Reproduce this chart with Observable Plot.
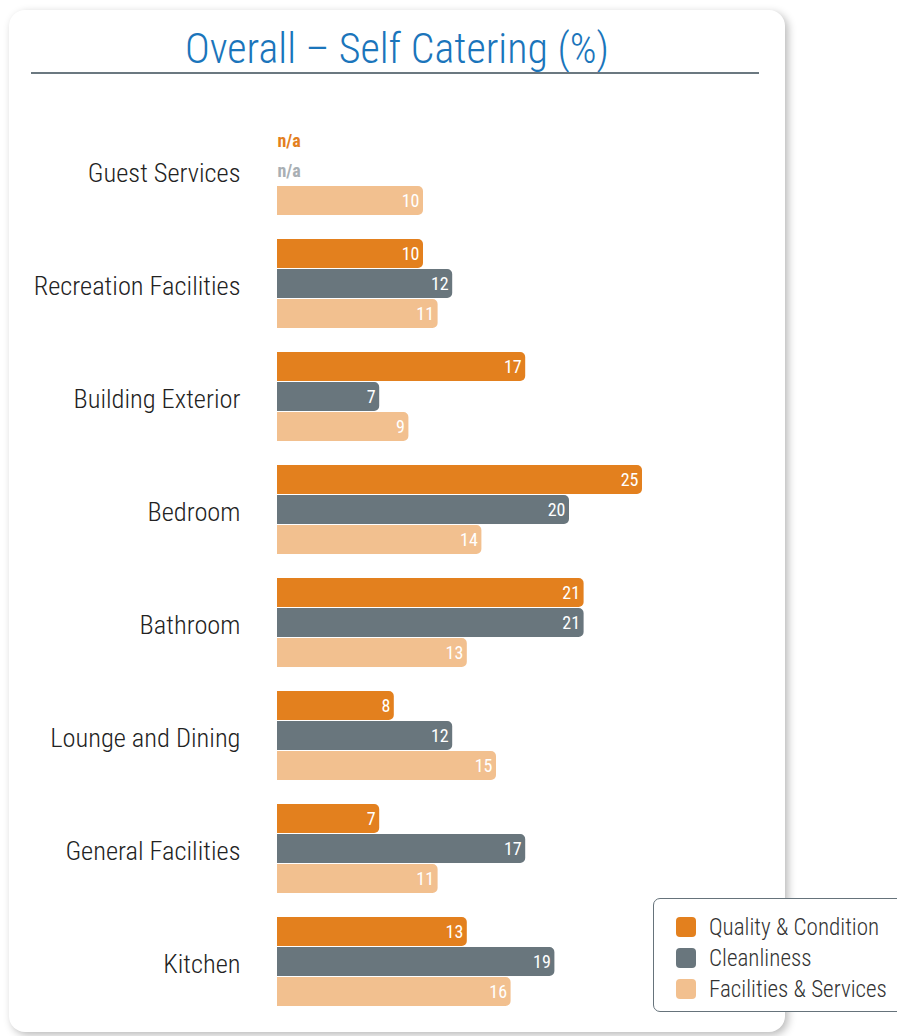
<!DOCTYPE html>
<html>
<head>
<meta charset="utf-8">
<script src="https://cdn.jsdelivr.net/npm/d3@7"></script>
<script src="https://cdn.jsdelivr.net/npm/@observablehq/plot@0.6"></script>
<style>
  html, body { margin: 0; padding: 0; background: #fff; }
  body { width: 897px; height: 1036px; position: relative; overflow: hidden; }
  #card { position: absolute; left: 9px; top: 10px; width: 776px; height: 1022px;
          background: #fff; border-radius: 16px;
          box-shadow: 3px 3px 9px rgba(0,0,0,0.28); }
  #title { position: absolute; left: 9px; width: 776px; top: 26px; text-align: center;
           color: #1b75bb; font-weight: 300; white-space: nowrap; }
  #rule { position: absolute; left: 31px; width: 728px; top: 72px; height: 0;
          border-top: 2px solid #6b7880; }
  #chart { position: absolute; left: 0; top: 0; }
  #legend { position: absolute; left: 653px; top: 898px; width: 260px; height: 114px;
            border: 1.5px solid #66737b; border-radius: 7px; background: #fff;
            box-sizing: border-box; }
  .li { position: absolute; left: 22px; height: 24px; display: flex; align-items: center;
        color: #333; white-space: nowrap; font-weight: 300; }
  .sw { width: 20px; height: 20px; border-radius: 4px; margin-right: 13px; flex: none; }
</style>
</head>
<body>
<div id="card"></div>
<div id="title">Overall – Self Catering (%)</div>
<div id="rule"></div>
<div id="chart"></div>
<div id="legend"></div>
<script>
const categories = ["Guest Services", "Recreation Facilities", "Building Exterior", "Bedroom",
                    "Bathroom", "Lounge and Dining", "General Facilities", "Kitchen"];
const seriesNames = ["Quality & Condition", "Cleanliness", "Facilities & Services"];
const seriesColors = ["#e3801e", "#69767d", "#f2c08f"];
const naColors = ["#e3801e", "#a9afb4"];
const quality     = [null, 10, 17, 25, 21, 8, 7, 13];
const cleanliness = [null, 12, 7, 20, 21, 12, 17, 19];
const facilities  = [10, 11, 9, 14, 13, 15, 11, 16];

// pick an installed condensed face
const ctx = document.createElement("canvas").getContext("2d");
function installed(name) {
  const probe = "Recreation Facilities Wmi 0123";
  for (const base of ["monospace", "serif"]) {
    ctx.font = `40px ${base}`;
    const w0 = ctx.measureText(probe).width;
    ctx.font = `40px "${name}", ${base}`;
    if (ctx.measureText(probe).width !== w0) return true;
  }
  return false;
}
const family = ["Roboto Condensed", "Liberation Sans Narrow", "DejaVu Sans Condensed", "Roboto"]
  .find(installed) || "sans-serif";
const fontFam = `"${family}", sans-serif`;
function fit(text, targetW, maxSize, weight) {
  ctx.font = `${weight} 100px ${fontFam}`;
  const w = ctx.measureText(text).width;
  return Math.min(maxSize, 100 * targetW / w);
}
const catSize = fit("Recreation Facilities", 207, 28, 300);
const titleSize = fit("Overall – Self Catering (%)", 424, 44, 300);
const legSize = fit("Facilities & Services", 178, 25, 300);
const numSize = Math.min(18, fit("25", 22, 20, 400));

const title = document.getElementById("title");
title.style.fontFamily = fontFam;
title.style.fontSize = titleSize + "px";
title.style.top = (64 - titleSize * 0.95) + "px";

const seriesValues = [quality, cleanliness, facilities];
const data = [];
categories.forEach((c, i) => {
  seriesNames.forEach((s, j) => {
    data.push({category: c, series: s, value: seriesValues[j][i]});
  });
});
const present = data.filter(d => d.value != null);
const missing = data.filter(d => d.value == null);

const chart = Plot.plot({
  width: 785,
  height: 1036,
  marginLeft: 277,
  marginRight: 143,
  marginTop: 113,
  marginBottom: 18,
  style: {fontFamily: fontFam, background: "transparent", overflow: "visible"},
  x: {domain: [0, 25], axis: null},
  y: {domain: seriesNames, axis: null, paddingInner: 0.04, paddingOuter: 0},
  fy: {domain: categories, paddingInner: 0.2, paddingOuter: 0.1, label: null},
  color: {domain: seriesNames, range: seriesColors},
  marks: [
    Plot.axisFy({anchor: "left", tickSize: 0, tickPadding: 37, fontSize: catSize, label: null,
                 fill: "#222", fontWeight: 300, dy: 3}),
    Plot.barX(present, {x: "value", y: "series", fy: "category", fill: "series", rx2: 5}),
    Plot.text(present, {x: "value", y: "series", fy: "category", text: d => String(d.value),
                        textAnchor: "end", dx: -4, fill: "white", fontSize: numSize,
                        fontWeight: 400}),
    Plot.text(missing.filter(d => d.series === seriesNames[0]),
              {x: () => 0, y: "series", fy: "category", text: () => "n/a",
               textAnchor: "start", fill: naColors[0], fontSize: numSize, fontWeight: "bold"}),
    Plot.text(missing.filter(d => d.series === seriesNames[1]),
              {x: () => 0, y: "series", fy: "category", text: () => "n/a",
               textAnchor: "start", fill: naColors[1], fontSize: numSize, fontWeight: "bold"})
  ]
});
document.getElementById("chart").appendChild(chart);

const legend = document.getElementById("legend");
seriesNames.forEach((s, j) => {
  const row = document.createElement("div");
  row.className = "li";
  row.style.top = (16 + j * 31) + "px";
  row.style.fontFamily = fontFam;
  row.style.fontSize = legSize + "px";
  const sw = document.createElement("div");
  sw.className = "sw";
  sw.style.background = seriesColors[j];
  row.appendChild(sw);
  row.appendChild(document.createTextNode(s));
  legend.appendChild(row);
});
</script>
</body>
</html>
